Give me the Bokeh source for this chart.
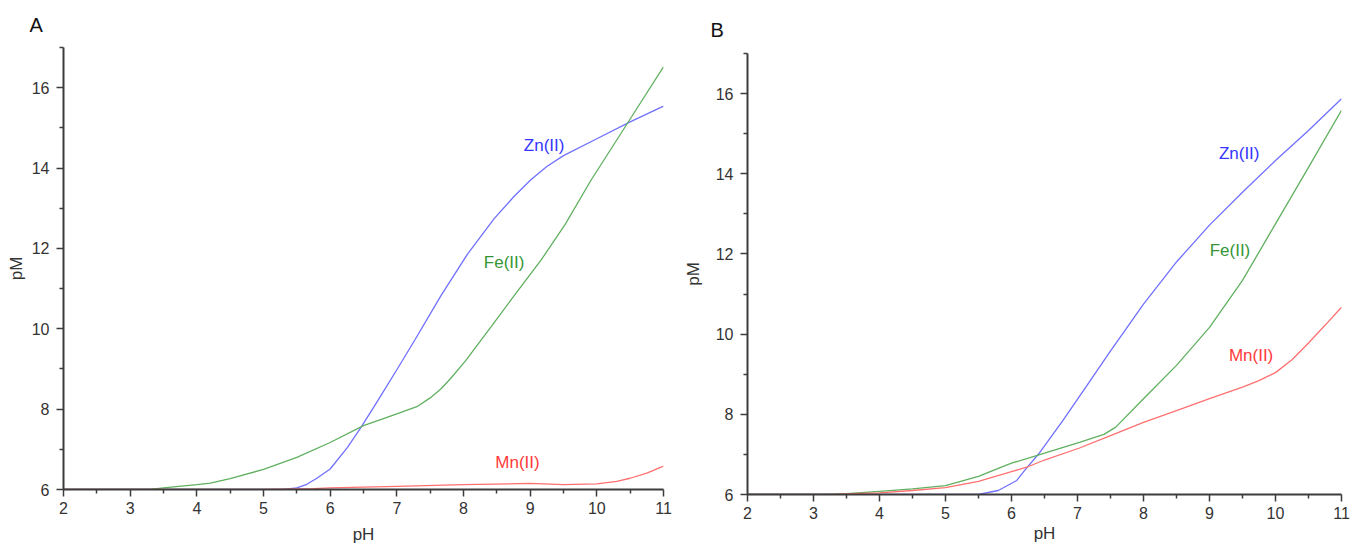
from bokeh.plotting import figure
from bokeh.layouts import row
from bokeh.models import FixedTicker, Label
from bokeh.embed import file_html
from bokeh.resources import INLINE

# ---------------- data ----------------
# Panel A
zn_a_ph = [2.0, 5.3, 5.5, 5.65, 5.8, 6.0, 6.26, 6.46, 6.71, 7.0, 7.27, 7.66, 8.06, 8.46, 8.75, 9.01, 9.25, 9.5, 10.0, 10.5, 11.0]
zn_a_pm = [6.0, 6.0, 6.04, 6.13, 6.28, 6.51, 7.05, 7.54, 8.2, 8.98, 9.72, 10.82, 11.86, 12.74, 13.28, 13.71, 14.04, 14.31, 14.73, 15.15, 15.54]

fe_a_ph = [2.0, 3.3, 3.5, 4.0, 4.2, 4.5, 5.0, 5.5, 6.0, 6.5, 7.0, 7.3, 7.5, 7.66, 7.8, 8.03, 8.41, 8.78, 9.16, 9.53, 9.91, 10.5, 11.0]
fe_a_pm = [6.0, 6.0, 6.04, 6.12, 6.16, 6.27, 6.5, 6.8, 7.17, 7.59, 7.88, 8.06, 8.28, 8.5, 8.75, 9.2, 10.04, 10.87, 11.7, 12.61, 13.69, 15.22, 16.52]

mn_a_ph = [2.0, 5.0, 5.75, 6.0, 7.0, 8.0, 9.0, 9.5, 10.0, 10.3, 10.5, 10.75, 11.0]
mn_a_pm = [6.0, 6.0, 6.02, 6.04, 6.08, 6.12, 6.15, 6.12, 6.14, 6.2, 6.28, 6.41, 6.58]

# Panel B
zn_b_ph = [2.0, 5.5, 5.8, 6.08, 6.2, 6.41, 6.78, 7.16, 7.48, 8.0, 8.5, 9.0, 9.5, 10.0, 10.5, 11.0]
zn_b_pm = [6.0, 6.0, 6.1, 6.35, 6.6, 7.01, 7.85, 8.76, 9.53, 10.75, 11.8, 12.72, 13.54, 14.33, 15.08, 15.87]

fe_b_ph = [2.0, 3.2, 3.5, 4.0, 4.5, 5.0, 5.5, 5.78, 6.0, 6.38, 6.5, 7.03, 7.4, 7.58, 8.0, 8.5, 9.0, 9.5, 10.0, 10.5, 11.0]
fe_b_pm = [6.0, 6.0, 6.02, 6.08, 6.14, 6.22, 6.45, 6.64, 6.78, 6.97, 7.03, 7.3, 7.5, 7.68, 8.39, 9.22, 10.17, 11.34, 12.75, 14.16, 15.58]

mn_b_ph = [2.0, 3.3, 3.6, 4.0, 4.5, 5.0, 5.5, 6.0, 6.23, 6.5, 7.03, 7.5, 8.0, 8.5, 9.0, 9.5, 9.75, 10.0, 10.25, 10.5, 10.75, 11.0]
mn_b_pm = [6.0, 6.0, 6.02, 6.04, 6.1, 6.17, 6.33, 6.57, 6.68, 6.86, 7.16, 7.47, 7.8, 8.09, 8.39, 8.68, 8.84, 9.04, 9.36, 9.78, 10.22, 10.67]

x_ticks = [2, 3, 4, 5, 6, 7, 8, 9, 10, 11]
x_minor = [2.5, 3.5, 4.5, 5.5, 6.5, 7.5, 8.5, 9.5, 10.5]
y_ticks = [6, 8, 10, 12, 14, 16]
y_minor = [7, 9, 11, 13, 15, 17]

FONT = "Liberation Sans"
LINE_COLORS = {"Zn": "#7070ff", "Fe": "#60b060", "Mn": "#ff7070"}
TEXT_COLORS = {"Zn": "#3535ff", "Fe": "#359535", "Mn": "#ff3a3a"}


def make_panel(letter, series, labels, width, height, border_l, border_r, border_t, border_b,
               ylab_standoff, xlab_standoff, title_offset, title_standoff):
    p = figure(width=width, height=height, x_range=(2, 11), y_range=(6, 17),
               output_backend="svg", toolbar_location=None,
               min_border_left=border_l, min_border_right=border_r,
               min_border_top=border_t, min_border_bottom=border_b)
    p.frame_align = False
    p.outline_line_color = None
    p.xgrid.visible = False
    p.ygrid.visible = False
    p.background_fill_color = "white"
    p.border_fill_color = "white"

    p.title.text = letter
    p.title.align = "left"
    p.title.offset = title_offset
    p.title.text_font = FONT
    p.title.text_font_size = "20px"
    p.title.text_font_style = "normal"
    p.title.text_color = "#111111"
    p.title.standoff = title_standoff

    for name, xs, ys in series:
        p.line(xs, ys, line_color=LINE_COLORS[name], line_width=1.3)

    p.xaxis.ticker = FixedTicker(ticks=x_ticks, minor_ticks=x_minor)
    p.yaxis.ticker = FixedTicker(ticks=y_ticks, minor_ticks=y_minor)
    for ax in (p.xaxis[0], p.yaxis[0]):
        ax.axis_line_width = 2
        ax.axis_line_color = "#3c3c3c"
        ax.major_tick_line_color = "#3c3c3c"
        ax.minor_tick_line_color = "#3c3c3c"
        ax.major_tick_line_width = 1.5
        ax.minor_tick_line_width = 1.5
        ax.major_tick_in = 0
        ax.major_tick_out = 7
        ax.minor_tick_in = 0
        ax.minor_tick_out = 4
        ax.major_label_text_font = FONT
        ax.major_label_text_font_size = "16px"
        ax.major_label_text_color = "#333333"
        ax.axis_label_text_font = FONT
        ax.axis_label_text_font_size = "17px"
        ax.axis_label_text_font_style = "normal"
        ax.axis_label_text_color = "#333333"
    p.xaxis.axis_label = "pH"
    p.yaxis.axis_label = "pM"
    p.xaxis.major_label_standoff = 5
    p.yaxis.major_label_standoff = 7
    p.xaxis.axis_label_standoff = xlab_standoff
    p.yaxis.axis_label_standoff = ylab_standoff

    for name, lx, ly in labels:
        p.add_layout(Label(x=lx, y=ly, text=f"{name}(II)", text_font=FONT,
                           text_font_size="17px", text_color=TEXT_COLORS[name],
                           text_align="center", text_baseline="middle"))
    return p


pA = make_panel("A",
                [("Zn", zn_a_ph, zn_a_pm), ("Fe", fe_a_ph, fe_a_pm), ("Mn", mn_a_ph, mn_a_pm)],
                [("Zn", 9.21, 14.56), ("Fe", 8.61, 11.66), ("Mn", 8.81, 6.67)],
                680, 548, 63, 17, 47, 59, 3, 8, -34, 23)
pB = make_panel("B",
                [("Zn", zn_b_ph, zn_b_pm), ("Fe", fe_b_ph, fe_b_pm), ("Mn", mn_b_ph, mn_b_pm)],
                [("Zn", 9.45, 14.5), ("Fe", 9.31, 12.08), ("Mn", 9.63, 9.47)],
                671, 548, 62, 10, 53, 54, 10, 2, -37, 26)

layout = row(pA, pB)
open("out.html", "w").write(file_html(layout, INLINE))
